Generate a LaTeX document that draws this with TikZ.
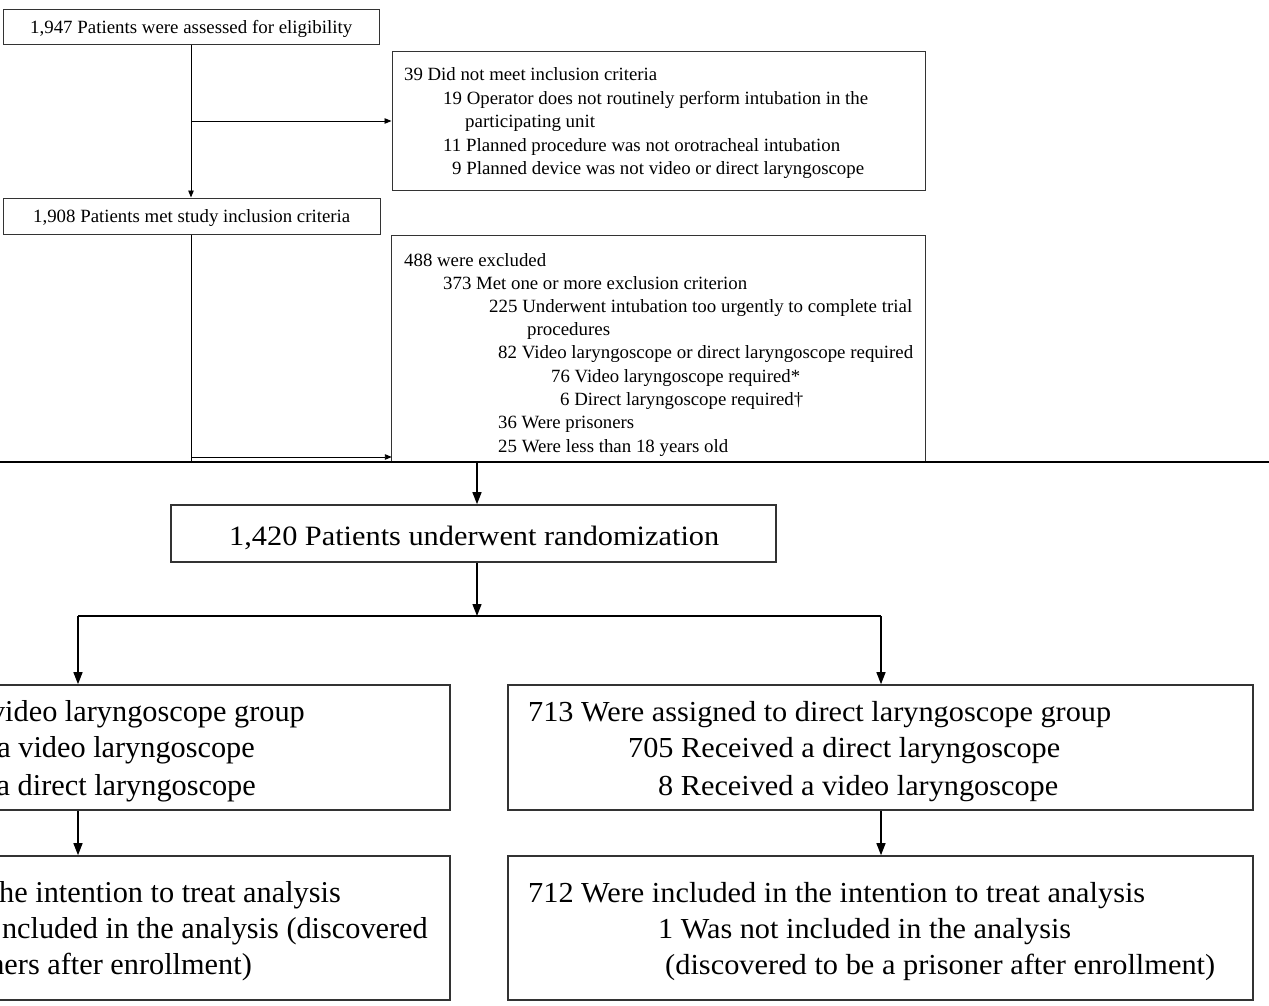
\documentclass[tikz,border=0pt]{standalone}
\usepackage{fontspec}
\setmainfont{Liberation Serif}
\usetikzlibrary{arrows.meta}

% set a line of text at its natural height, stretched to a given width
\newsavebox\fitbox
\newcommand\fitw[2]{\sbox\fitbox{#2}\pgfmathsetmacro\fitsx{#1/\the\wd\fitbox}\scalebox{\fitsx}[1]{\usebox\fitbox}}

\begin{document}
\begin{tikzpicture}[x=1pt,y=-1pt,
  topbox/.style={draw=black!80, line width=1pt, inner sep=0pt},
  botbox/.style={draw=black!80, line width=1.6pt, inner sep=0pt},
  smalltxt/.style={font=\fontsize{18.7}{22}\selectfont, inner sep=0pt, anchor=base west},
  bigtxt/.style={font=\fontsize{29}{34}\selectfont, inner sep=0pt, anchor=base west},
  cuttxt/.style={font=\fontsize{30.3}{34}\selectfont, inner sep=0pt, anchor=base east},
  thinline/.style={line width=0.9pt},
  smallarr/.style={thinline, -{Triangle[length=7pt,width=5.5pt]}},
  bigarr/.style={line width=1.3pt, -{Triangle[length=12pt,width=9pt]}},
  sepline/.style={line width=2.8pt}]

\useasboundingbox (0,0) rectangle (1269,1006);
\clip (0,0) rectangle (1269,1006);

% ---------- screening ----------
\node[topbox, minimum width=376pt, minimum height=35pt] (boxA) at (191,27.5) {};
\node[smalltxt] (tA) at (30,34) {\fitw{322}{1,947 Patients were assessed for eligibility}};

\node[topbox, minimum width=533pt, minimum height=138pt] (boxC) at (658.5,121) {};
\node[smalltxt] (c1) at (404,81)  {\fitw{253}{39 Did not meet inclusion criteria}};
\node[smalltxt] (c2) at (443,105) {\fitw{425}{19 Operator does not routinely perform intubation in the}};
\node[smalltxt] (c3) at (465,128) {\fitw{130}{participating unit}};
\node[smalltxt] (c4) at (443,152) {\fitw{397}{11 Planned procedure was not orotracheal intubation}};
\node[smalltxt] (c5) at (452,175) {\fitw{412}{9 Planned device was not video or direct laryngoscope}};

\node[topbox, minimum width=377pt, minimum height=36pt] (boxB) at (191.5,216) {};
\node[smalltxt] (tB) at (33,222) {\fitw{317}{1,908 Patients met study inclusion criteria}};

\node[inner sep=0pt, minimum width=533pt, minimum height=226pt] (boxD) at (658.5,349) {};
\draw[topbox] (boxD.south west) |- (boxD.north east) -- (boxD.south east);
\node[smalltxt] (d1) at (404,266) {\fitw{142}{488 were excluded}};
\node[smalltxt] (d2) at (443,289) {\fitw{304}{373 Met one or more exclusion criterion}};
\node[smalltxt] (d3) at (489,312) {\fitw{423}{225 Underwent intubation too urgently to complete trial}};
\node[smalltxt] (d4) at (527,335) {\fitw{83}{procedures}};
\node[smalltxt] (d5) at (498,358) {\fitw{415}{82 Video laryngoscope or direct laryngoscope required}};
\node[smalltxt] (d6) at (551,382) {\fitw{249}{76 Video laryngoscope required*}};
\node[smalltxt] (d7) at (560,405) {\fitw{243}{6 Direct laryngoscope required†}};
\node[smalltxt] (d8) at (498,428) {\fitw{136}{36 Were prisoners}};
\node[smalltxt] (d9) at (498,452) {\fitw{230}{25 Were less than 18 years old}};

% screening connectors
\draw[smallarr] (boxA.south) -- (boxA.south |- boxB.north);
\coordinate (brC) at (boxA.south |- boxC.west);
\draw[smallarr] (brC) -- (boxC.west);

\coordinate (sepW) at (0,462);
\coordinate (sepE) at (1269,462);
\draw[thinline] (boxB.south) -- (boxB.south |- sepW);
\coordinate (brD) at (192,457);
\draw[smallarr] (brD) -- (brD -| boxD.west);

\draw[sepline] (sepW) -- (sepE);

% ---------- randomization ----------
\node[botbox, minimum width=605pt, minimum height=57pt] (boxE) at (473.5,533.5) {};
\node[font=\fontsize{28}{32}\selectfont, inner sep=0pt, anchor=base west] (tE) at (229,545)
  {\fitw{490}{1,420 Patients underwent randomization}};

\coordinate (randIn) at (477,462);
\draw[bigarr] (randIn) -- (randIn |- boxE.north);

\coordinate (splitL) at (78,616);
\coordinate (splitR) at (881,616);
\draw[bigarr] (randIn |- boxE.south) -- (randIn |- splitL);
\draw[line width=1.3pt] (splitL) -- (splitR);

% ---------- allocation ----------
\node[botbox, minimum width=750pt, minimum height=125pt] (boxF) at (75,747.5) {};
\node[cuttxt] (f1) at (305,721) {video laryngoscope group};
\node[cuttxt] (f2) at (255,757) {a video laryngoscope};
\node[cuttxt] (f3) at (256,795) {a direct laryngoscope};

\node[botbox, minimum width=745pt, minimum height=125pt] (boxH) at (880.5,747.5) {};
\node[bigtxt] (h1) at (528,721) {\fitw{583}{713 Were assigned to direct laryngoscope group}};
\node[bigtxt] (h2) at (628,757) {\fitw{432}{705 Received a direct laryngoscope}};
\node[bigtxt] (h3) at (658,795) {\fitw{400}{8 Received a video laryngoscope}};

\draw[bigarr] (splitL) -- (splitL |- boxF.north);
\draw[bigarr] (splitR) -- (splitR |- boxH.north);

% ---------- analysis ----------
\node[botbox, minimum width=750pt, minimum height=144pt] (boxG) at (75,928) {};
\node[cuttxt] (g1) at (341,902) {he intention to treat analysis};
\node[cuttxt] (g2) at (428,938) {ncluded in the analysis (discovered};
\node[cuttxt] (g3) at (252,974) {ners after enrollment)};

\node[botbox, minimum width=745pt, minimum height=144pt] (boxI) at (880.5,928) {};
\node[bigtxt] (i1) at (528,902) {\fitw{617}{712 Were included in the intention to treat analysis}};
\node[bigtxt] (i2) at (658,938) {\fitw{413}{1 Was not included in the analysis}};
\node[bigtxt] (i3) at (665,974) {\fitw{550}{(discovered to be a prisoner after enrollment)}};

\draw[bigarr] (splitL |- boxF.south) -- (splitL |- boxG.north);
\draw[bigarr] (splitR |- boxH.south) -- (splitR |- boxI.north);

\end{tikzpicture}
\end{document}
